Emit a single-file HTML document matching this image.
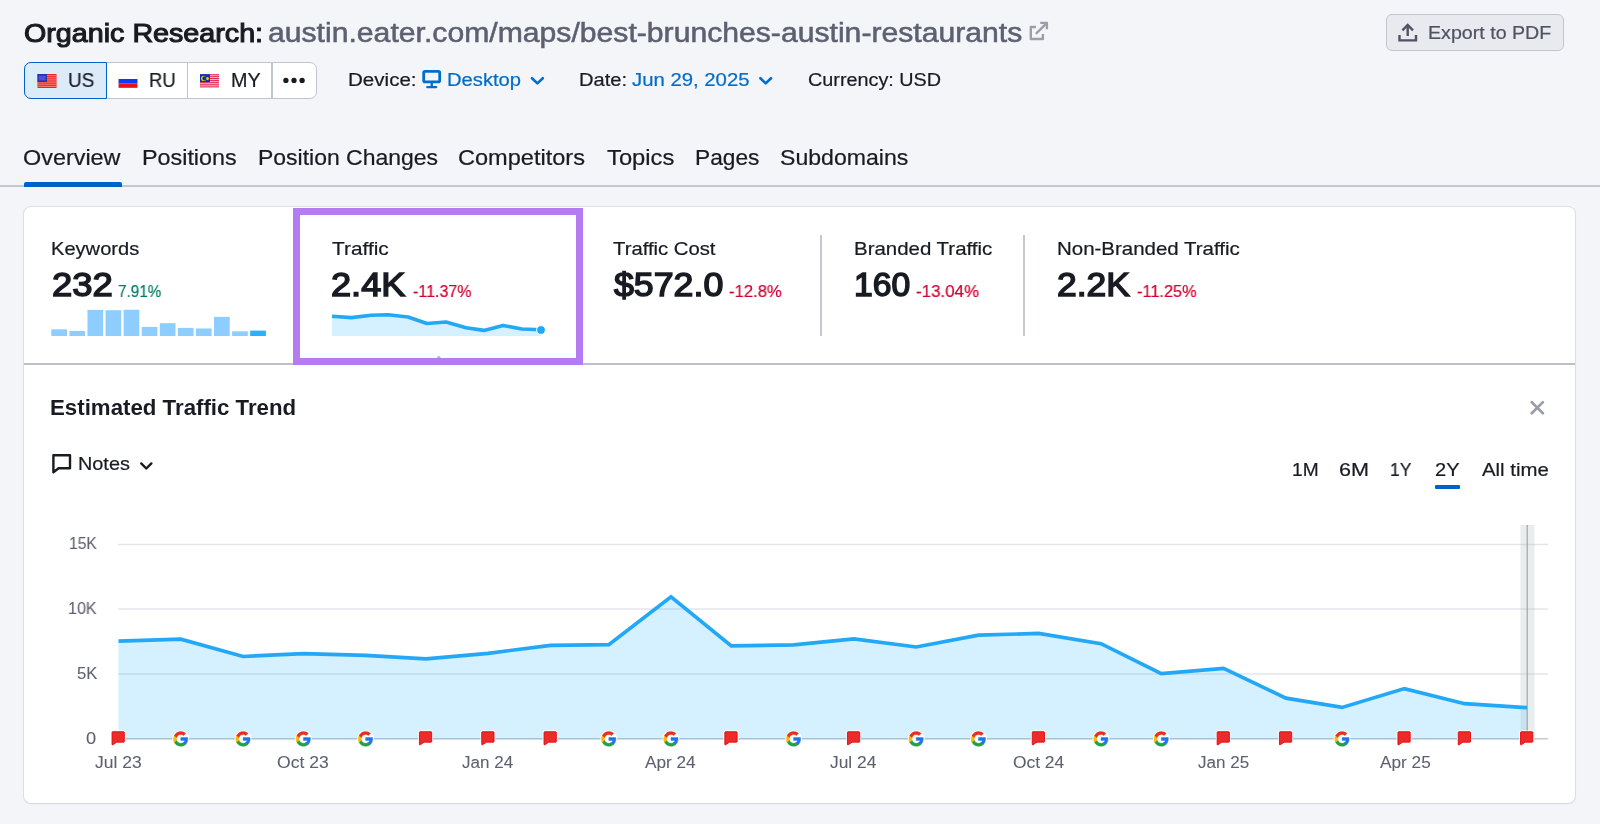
<!DOCTYPE html>
<html>
<head>
<meta charset="utf-8">
<title>Organic Research</title>
<style>
*{box-sizing:border-box;margin:0;padding:0}
html,body{width:1600px;height:824px;overflow:hidden}
body{background:#f4f5f9;font-family:"Liberation Sans",sans-serif;color:#191b23;position:relative}
.t{position:absolute;white-space:nowrap;line-height:1;transform-origin:0 0;will-change:transform}
.abs{position:absolute}
#export{}
#exbtn{left:1386px;top:13.5px;width:178px;height:37px;border:1.4px solid #c2c5ce;border-radius:6px;background:#e9eaef}
#dbs{left:24px;top:62px;width:292.5px;height:36.5px;border:1.3px solid #c0c4cd;border-radius:7px;background:#fff}
#dbus{left:24px;top:62px;width:82.5px;height:36.5px;border:1.7px solid #0062c8;border-radius:7px 0 0 7px;background:#dcebf8}
.sep{position:absolute;top:63px;width:1.3px;height:34.5px;background:#c0c4cd}
#tabline{left:0;top:185px;width:1600px;height:1.8px;background:#c4c8d1}
#tabact{left:24px;top:182.3px;width:98px;height:4.4px;background:#0062c8;border-radius:2px 2px 0 0}
#card{left:24px;top:207.3px;width:1551.2px;height:596px;background:#fff;border-radius:7px;box-shadow:0 0 0 1px rgba(196,199,207,.45),0 1px 2px rgba(25,27,35,.08)}
#divider{left:24px;top:363px;width:1551.2px;height:1.9px;background:#bdc0ca}
#hl{left:293px;top:207.5px;width:289.5px;height:157px;border:7px solid #b57bf3}
.vsep{position:absolute;top:235.2px;width:1.7px;height:101px;background:#c4c7cf}
#r2u{left:1435.2px;top:485.2px;width:24.7px;height:4.1px;background:#0062c8;border-radius:1px}
</style>
</head>
<body>

<!-- header buttons -->
<div class="abs" id="exbtn"></div>
<div class="abs" id="dbs"></div>
<div class="abs" id="dbus"></div>
<div class="sep" style="left:186.6px"></div>
<div class="sep" style="left:271.3px"></div>

<!-- tabs -->
<div class="abs" id="tabline"></div>
<div class="abs" id="tabact"></div>

<!-- card -->
<div class="abs" id="card"></div>
<div class="abs" id="divider"></div>
<div class="vsep" style="left:820.3px"></div>
<div class="vsep" style="left:1023.4px"></div>
<div class="abs" id="r2u"></div>

<!-- graphics layer -->
<svg class="abs" style="left:0;top:0" width="1600" height="824" viewBox="0 0 1600 824">
<!-- external link icon -->
<g fill="none" stroke="#9c9fa9" stroke-width="2.4" stroke-linecap="butt" stroke-linejoin="round">
<path d="M1035.9 27 H1030.8 V39 H1042.9 V34.1"/>
<path d="M1040.2 22.9 H1046.9 V29.2"/>
<path d="M1046.4 23.4 L1036.6 33.2" stroke-linecap="round"/>
</g>
<!-- export icon -->
<g fill="none" stroke="#4f5261" stroke-width="2.4" stroke-linecap="butt" stroke-linejoin="miter">
<path d="M1407.7 36 V25"/>
<path d="M1402.4 30.3 L1407.7 25 L1413 30.3"/>
<path d="M1399.5 35 V40.4 H1416 V35"/>
</g>
<!-- US flag -->
<g>
<rect x="37.5" y="74" width="19" height="14" fill="#ea2222"/>
<g fill="#f6857b">
<rect x="37.5" y="75.1" width="19" height="1.05"/><rect x="37.5" y="77.25" width="19" height="1.05"/><rect x="37.5" y="79.4" width="19" height="1.05"/><rect x="37.5" y="81.55" width="19" height="1.05"/><rect x="37.5" y="83.7" width="19" height="1.05"/><rect x="37.5" y="85.85" width="19" height="1.05"/>
</g>
<rect x="37.5" y="74" width="9.4" height="8" fill="#2a2fa8"/>
<rect x="38.8" y="75.6" width="6.8" height="4.8" fill="#4a4fdc"/>
</g>
<!-- RU flag -->
<g>
<rect x="118.3" y="74.2" width="19.4" height="13.8" rx="1.2" fill="#e4e6ea"/>
<rect x="118.6" y="74.5" width="18.8" height="5" rx="1" fill="#ffffff"/>
<rect x="118.6" y="79" width="18.8" height="4.4" fill="#0a3af2"/>
<rect x="118.6" y="83.4" width="18.8" height="4.4" fill="#e81212"/>
</g>
<!-- MY flag -->
<g>
<rect x="200" y="74.2" width="19" height="13.4" fill="#e0214d"/>
<g fill="#f7c5d0">
<rect x="200" y="75.2" width="19" height="0.95"/><rect x="200" y="77.1" width="19" height="0.95"/><rect x="200" y="79" width="19" height="0.95"/><rect x="200" y="80.9" width="19" height="0.95"/><rect x="200" y="82.8" width="19" height="0.95"/><rect x="200" y="84.7" width="19" height="0.95"/><rect x="200" y="86.6" width="19" height="0.95"/>
</g>
<rect x="200" y="74.2" width="10" height="7.9" fill="#0a32b4"/>
<circle cx="203.6" cy="78.4" r="2.6" fill="#f2c200"/>
<circle cx="204.5" cy="78.4" r="2.1" fill="#0a32b4"/>
<circle cx="207.5" cy="78.4" r="1.5" fill="#f7c400"/>
</g>
<!-- dots -->
<g fill="#191b23"><circle cx="285.9" cy="80.4" r="2.65"/><circle cx="294" cy="80.4" r="2.65"/><circle cx="302.1" cy="80.4" r="2.65"/></g>
<!-- monitor icon -->
<g fill="none" stroke="#006dca" stroke-width="2.8" stroke-linejoin="round">
<rect x="423.7" y="71.3" width="16" height="10.5" rx="1.4"/>
</g>
<path d="M430.6 83 H432.9 V86 H436.3 Q437.3 86 437.3 87.1 T436.3 88.3 H427.2 Q426.2 88.3 426.2 87.1 T427.2 86 H430.6 Z" fill="#006dca"/>
<!-- chevrons -->
<g fill="none" stroke-width="2.6" stroke-linecap="round" stroke-linejoin="round">
<path d="M532 78.2 L537.4 83.4 L542.8 78.2" stroke="#006dca"/>
<path d="M760.4 78.2 L765.7 83.4 L771 78.2" stroke="#006dca"/>
<path d="M141.2 463.4 L146.3 468.5 L151.4 463.4" stroke="#191b23" stroke-width="2.4"/>
</g>
<!-- notes icon -->
<path d="M53.4 455.3 H70 V468.3 H58.6 L53.4 472.3 Z" fill="none" stroke="#191b23" stroke-width="2.4" stroke-linejoin="round"/>
<!-- close x -->
<g stroke="#9a9da8" stroke-width="2.7" stroke-linecap="round"><path d="M1531.7 402.1 L1542.9 413.3"/><path d="M1542.9 402.1 L1531.7 413.3"/></g>
<path d="M436.3 358.2 L438.8 355.4 L441.3 358.2 Z" fill="#b4b7c0"/>
<!-- keyword bars -->
<rect x="51.30" y="329.30" width="15.7" height="6.70" fill="#8ecdff"/>
<rect x="69.38" y="331.00" width="15.7" height="5.00" fill="#8ecdff"/>
<rect x="87.46" y="309.90" width="15.7" height="26.10" fill="#8ecdff"/>
<rect x="105.54" y="310.20" width="15.7" height="25.80" fill="#8ecdff"/>
<rect x="123.62" y="309.75" width="15.7" height="26.25" fill="#8ecdff"/>
<rect x="141.70" y="326.90" width="15.7" height="9.10" fill="#8ecdff"/>
<rect x="159.78" y="323.20" width="15.7" height="12.80" fill="#8ecdff"/>
<rect x="177.86" y="327.90" width="15.7" height="8.10" fill="#8ecdff"/>
<rect x="195.94" y="328.50" width="15.7" height="7.50" fill="#8ecdff"/>
<rect x="214.02" y="316.90" width="15.7" height="19.10" fill="#8ecdff"/>
<rect x="232.10" y="331.30" width="15.7" height="4.70" fill="#8ecdff"/>
<rect x="250.18" y="330.60" width="15.7" height="5.40" fill="#2bb0ff"/>
<!-- sparkline -->
<polygon points="332,336 332.0,316.2 351.5,317.6 371.0,315.3 388.0,314.8 408.0,317.0 427.0,323.5 446.0,322.0 466.0,327.8 484.0,330.4 503.0,325.4 522.0,329.0 541.0,329.8 541,336" fill="#2bb3ff" fill-opacity="0.2"/><polyline points="332.0,316.2 351.5,317.6 371.0,315.3 388.0,314.8 408.0,317.0 427.0,323.5 446.0,322.0 466.0,327.8 484.0,330.4 503.0,325.4 522.0,329.0 541.0,329.8" fill="none" stroke="#22a8f7" stroke-width="3.6" stroke-linejoin="round"/><circle cx="541" cy="330" r="4.4" fill="#22a8f7" stroke="#fff" stroke-width="1"/>
<!-- chart -->
<rect x="118" y="543.8" width="1430" height="1.4" fill="#e3e4ec"/>
<rect x="118" y="608.3" width="1430" height="1.4" fill="#e3e4ec"/>
<rect x="118" y="673.3" width="1430" height="1.4" fill="#e3e4ec"/>
<rect x="118" y="738.0" width="1430" height="1.5" fill="#c6c9d1"/>
<polygon points="118.5,739.4 118.5,641.2 180.8,639.2 243.1,656.5 303.4,653.6 365.6,655.4 425.9,658.8 488.2,653.3 550.5,645.3 608.8,644.6 671.0,596.9 731.3,645.9 793.6,644.8 853.9,638.8 916.2,647.0 978.5,635.1 1038.7,633.4 1101.0,643.7 1161.3,673.7 1223.6,668.3 1285.9,698.2 1342.1,707.4 1404.4,688.6 1464.7,703.7 1527.0,707.6 1527.0,739.4" fill="#2bb3ff" fill-opacity="0.2"/>
<rect x="1520.4" y="525" width="14.1" height="213.8" fill="#a9b2b8" fill-opacity="0.24"/>
<rect x="1526.6" y="525" width="1.3" height="213.8" fill="#9aa0a6" fill-opacity="0.85"/>
<polyline points="118.5,641.2 180.8,639.2 243.1,656.5 303.4,653.6 365.6,655.4 425.9,658.8 488.2,653.3 550.5,645.3 608.8,644.6 671.0,596.9 731.3,645.9 793.6,644.8 853.9,638.8 916.2,647.0 978.5,635.1 1038.7,633.4 1101.0,643.7 1161.3,673.7 1223.6,668.3 1285.9,698.2 1342.1,707.4 1404.4,688.6 1464.7,703.7 1527.0,707.6" fill="none" stroke="#22a8f7" stroke-width="3.7" stroke-linejoin="miter" stroke-linecap="butt"/>
<g transform="translate(111.8,731.3)"><path d="M0.85 0.45 H11.9 Q12.5 0.45 12.5 1.05 V10.25 Q12.5 10.85 11.9 10.85 H4.9 L1.0 13.5 Q0.25 13.9 0.25 13.0 V1.05 Q0.25 0.45 0.85 0.45 Z" fill="#fff" stroke="#fff" stroke-width="2.6" stroke-linejoin="round"/><path d="M0.85 0.45 H11.9 Q12.5 0.45 12.5 1.05 V10.25 Q12.5 10.85 11.9 10.85 H4.9 L1.0 13.5 Q0.25 13.9 0.25 13.0 V1.05 Q0.25 0.45 0.85 0.45 Z" fill="#ec2b2b" stroke="#e80505" stroke-width="0.9" stroke-linejoin="round"/></g>
<g transform="translate(172.7,730.9)"><circle cx="8.1" cy="8" r="8.4" fill="#fff"/><g transform="translate(0.1,0) scale(0.3333)" stroke-width="1.3" stroke-linejoin="round"><path fill="#1f74f2" stroke="#1f74f2" d="M45.12 24.5c0-1.56-.14-3.06-.4-4.5H24v8.51h11.84c-.51 2.75-2.06 5.08-4.39 6.64v5.52h7.11c4.16-3.83 6.56-9.47 6.56-16.17z"/><path fill="#24a148" stroke="#24a148" d="M24 46c5.94 0 10.92-1.97 14.56-5.33l-7.11-5.52c-1.97 1.32-4.49 2.1-7.45 2.1-5.73 0-10.58-3.87-12.31-9.07H4.34v5.7C7.96 41.07 15.4 46 24 46z"/><path fill="#fbb808" stroke="#fbb808" d="M11.69 28.18C11.25 26.86 11 25.45 11 24s.25-2.86.69-4.18v-5.7H4.34C2.85 17.09 2 20.45 2 24c0 3.55.85 6.91 2.34 9.88l7.35-5.7z"/><path fill="#ea2e1c" stroke="#ea2e1c" d="M24 10.75c3.23 0 6.13 1.11 8.41 3.29l6.31-6.31C34.91 4.18 29.93 2 24 2 15.4 2 7.96 6.930 4.34 14.12l7.35 5.7c1.73-5.2 6.58-9.07 12.31-9.07z"/></g></g>
<g transform="translate(235.0,730.9)"><circle cx="8.1" cy="8" r="8.4" fill="#fff"/><g transform="translate(0.1,0) scale(0.3333)" stroke-width="1.3" stroke-linejoin="round"><path fill="#1f74f2" stroke="#1f74f2" d="M45.12 24.5c0-1.56-.14-3.06-.4-4.5H24v8.51h11.84c-.51 2.75-2.06 5.08-4.39 6.64v5.52h7.11c4.16-3.83 6.56-9.47 6.56-16.17z"/><path fill="#24a148" stroke="#24a148" d="M24 46c5.94 0 10.92-1.97 14.56-5.33l-7.11-5.52c-1.97 1.32-4.49 2.1-7.45 2.1-5.73 0-10.58-3.87-12.31-9.07H4.34v5.7C7.96 41.07 15.4 46 24 46z"/><path fill="#fbb808" stroke="#fbb808" d="M11.69 28.18C11.25 26.86 11 25.45 11 24s.25-2.86.69-4.18v-5.7H4.34C2.85 17.09 2 20.45 2 24c0 3.55.85 6.91 2.34 9.88l7.35-5.7z"/><path fill="#ea2e1c" stroke="#ea2e1c" d="M24 10.75c3.23 0 6.13 1.11 8.41 3.29l6.31-6.31C34.91 4.18 29.93 2 24 2 15.4 2 7.96 6.930 4.34 14.12l7.35 5.7c1.73-5.2 6.58-9.07 12.31-9.07z"/></g></g>
<g transform="translate(295.3,730.9)"><circle cx="8.1" cy="8" r="8.4" fill="#fff"/><g transform="translate(0.1,0) scale(0.3333)" stroke-width="1.3" stroke-linejoin="round"><path fill="#1f74f2" stroke="#1f74f2" d="M45.12 24.5c0-1.56-.14-3.06-.4-4.5H24v8.51h11.84c-.51 2.75-2.06 5.08-4.39 6.64v5.52h7.11c4.16-3.83 6.56-9.47 6.56-16.17z"/><path fill="#24a148" stroke="#24a148" d="M24 46c5.94 0 10.92-1.97 14.56-5.33l-7.11-5.52c-1.97 1.32-4.49 2.1-7.45 2.1-5.73 0-10.58-3.87-12.31-9.07H4.34v5.7C7.96 41.07 15.4 46 24 46z"/><path fill="#fbb808" stroke="#fbb808" d="M11.69 28.18C11.25 26.86 11 25.45 11 24s.25-2.86.69-4.18v-5.7H4.34C2.85 17.09 2 20.45 2 24c0 3.55.85 6.91 2.34 9.88l7.35-5.7z"/><path fill="#ea2e1c" stroke="#ea2e1c" d="M24 10.75c3.23 0 6.13 1.11 8.41 3.29l6.31-6.31C34.91 4.18 29.93 2 24 2 15.4 2 7.96 6.930 4.34 14.12l7.35 5.7c1.73-5.2 6.58-9.07 12.31-9.07z"/></g></g>
<g transform="translate(357.5,730.9)"><circle cx="8.1" cy="8" r="8.4" fill="#fff"/><g transform="translate(0.1,0) scale(0.3333)" stroke-width="1.3" stroke-linejoin="round"><path fill="#1f74f2" stroke="#1f74f2" d="M45.12 24.5c0-1.56-.14-3.06-.4-4.5H24v8.51h11.84c-.51 2.75-2.06 5.08-4.39 6.64v5.52h7.11c4.16-3.83 6.56-9.47 6.56-16.17z"/><path fill="#24a148" stroke="#24a148" d="M24 46c5.94 0 10.92-1.97 14.56-5.33l-7.11-5.52c-1.97 1.32-4.49 2.1-7.45 2.1-5.73 0-10.58-3.87-12.31-9.07H4.34v5.7C7.96 41.07 15.4 46 24 46z"/><path fill="#fbb808" stroke="#fbb808" d="M11.69 28.18C11.25 26.86 11 25.45 11 24s.25-2.86.69-4.18v-5.7H4.34C2.85 17.09 2 20.45 2 24c0 3.55.85 6.91 2.34 9.88l7.35-5.7z"/><path fill="#ea2e1c" stroke="#ea2e1c" d="M24 10.75c3.23 0 6.13 1.11 8.41 3.29l6.31-6.31C34.91 4.18 29.93 2 24 2 15.4 2 7.96 6.930 4.34 14.12l7.35 5.7c1.73-5.2 6.58-9.07 12.31-9.07z"/></g></g>
<g transform="translate(419.2,731.3)"><path d="M0.85 0.45 H11.9 Q12.5 0.45 12.5 1.05 V10.25 Q12.5 10.85 11.9 10.85 H4.9 L1.0 13.5 Q0.25 13.9 0.25 13.0 V1.05 Q0.25 0.45 0.85 0.45 Z" fill="#fff" stroke="#fff" stroke-width="2.6" stroke-linejoin="round"/><path d="M0.85 0.45 H11.9 Q12.5 0.45 12.5 1.05 V10.25 Q12.5 10.85 11.9 10.85 H4.9 L1.0 13.5 Q0.25 13.9 0.25 13.0 V1.05 Q0.25 0.45 0.85 0.45 Z" fill="#ec2b2b" stroke="#e80505" stroke-width="0.9" stroke-linejoin="round"/></g>
<g transform="translate(481.5,731.3)"><path d="M0.85 0.45 H11.9 Q12.5 0.45 12.5 1.05 V10.25 Q12.5 10.85 11.9 10.85 H4.9 L1.0 13.5 Q0.25 13.9 0.25 13.0 V1.05 Q0.25 0.45 0.85 0.45 Z" fill="#fff" stroke="#fff" stroke-width="2.6" stroke-linejoin="round"/><path d="M0.85 0.45 H11.9 Q12.5 0.45 12.5 1.05 V10.25 Q12.5 10.85 11.9 10.85 H4.9 L1.0 13.5 Q0.25 13.9 0.25 13.0 V1.05 Q0.25 0.45 0.85 0.45 Z" fill="#ec2b2b" stroke="#e80505" stroke-width="0.9" stroke-linejoin="round"/></g>
<g transform="translate(543.8,731.3)"><path d="M0.85 0.45 H11.9 Q12.5 0.45 12.5 1.05 V10.25 Q12.5 10.85 11.9 10.85 H4.9 L1.0 13.5 Q0.25 13.9 0.25 13.0 V1.05 Q0.25 0.45 0.85 0.45 Z" fill="#fff" stroke="#fff" stroke-width="2.6" stroke-linejoin="round"/><path d="M0.85 0.45 H11.9 Q12.5 0.45 12.5 1.05 V10.25 Q12.5 10.85 11.9 10.85 H4.9 L1.0 13.5 Q0.25 13.9 0.25 13.0 V1.05 Q0.25 0.45 0.85 0.45 Z" fill="#ec2b2b" stroke="#e80505" stroke-width="0.9" stroke-linejoin="round"/></g>
<g transform="translate(600.7,730.9)"><circle cx="8.1" cy="8" r="8.4" fill="#fff"/><g transform="translate(0.1,0) scale(0.3333)" stroke-width="1.3" stroke-linejoin="round"><path fill="#1f74f2" stroke="#1f74f2" d="M45.12 24.5c0-1.56-.14-3.06-.4-4.5H24v8.51h11.84c-.51 2.75-2.06 5.08-4.39 6.64v5.52h7.11c4.16-3.83 6.56-9.47 6.56-16.17z"/><path fill="#24a148" stroke="#24a148" d="M24 46c5.94 0 10.92-1.97 14.56-5.33l-7.11-5.52c-1.97 1.32-4.49 2.1-7.45 2.1-5.73 0-10.58-3.87-12.31-9.07H4.34v5.7C7.96 41.07 15.4 46 24 46z"/><path fill="#fbb808" stroke="#fbb808" d="M11.69 28.18C11.25 26.86 11 25.45 11 24s.25-2.86.69-4.18v-5.7H4.34C2.85 17.09 2 20.45 2 24c0 3.55.85 6.91 2.34 9.88l7.35-5.7z"/><path fill="#ea2e1c" stroke="#ea2e1c" d="M24 10.75c3.23 0 6.13 1.11 8.41 3.29l6.31-6.31C34.91 4.18 29.93 2 24 2 15.4 2 7.96 6.930 4.34 14.12l7.35 5.7c1.73-5.2 6.58-9.07 12.31-9.07z"/></g></g>
<g transform="translate(662.9,730.9)"><circle cx="8.1" cy="8" r="8.4" fill="#fff"/><g transform="translate(0.1,0) scale(0.3333)" stroke-width="1.3" stroke-linejoin="round"><path fill="#1f74f2" stroke="#1f74f2" d="M45.12 24.5c0-1.56-.14-3.06-.4-4.5H24v8.51h11.84c-.51 2.75-2.06 5.08-4.39 6.64v5.52h7.11c4.16-3.83 6.56-9.47 6.56-16.17z"/><path fill="#24a148" stroke="#24a148" d="M24 46c5.94 0 10.92-1.97 14.56-5.33l-7.11-5.52c-1.97 1.32-4.49 2.1-7.45 2.1-5.73 0-10.58-3.87-12.31-9.07H4.34v5.7C7.96 41.07 15.4 46 24 46z"/><path fill="#fbb808" stroke="#fbb808" d="M11.69 28.18C11.25 26.86 11 25.45 11 24s.25-2.86.69-4.18v-5.7H4.34C2.85 17.09 2 20.45 2 24c0 3.55.85 6.91 2.34 9.88l7.35-5.7z"/><path fill="#ea2e1c" stroke="#ea2e1c" d="M24 10.75c3.23 0 6.13 1.11 8.41 3.29l6.31-6.31C34.91 4.18 29.93 2 24 2 15.4 2 7.96 6.930 4.34 14.12l7.35 5.7c1.73-5.2 6.58-9.07 12.31-9.07z"/></g></g>
<g transform="translate(724.6,731.3)"><path d="M0.85 0.45 H11.9 Q12.5 0.45 12.5 1.05 V10.25 Q12.5 10.85 11.9 10.85 H4.9 L1.0 13.5 Q0.25 13.9 0.25 13.0 V1.05 Q0.25 0.45 0.85 0.45 Z" fill="#fff" stroke="#fff" stroke-width="2.6" stroke-linejoin="round"/><path d="M0.85 0.45 H11.9 Q12.5 0.45 12.5 1.05 V10.25 Q12.5 10.85 11.9 10.85 H4.9 L1.0 13.5 Q0.25 13.9 0.25 13.0 V1.05 Q0.25 0.45 0.85 0.45 Z" fill="#ec2b2b" stroke="#e80505" stroke-width="0.9" stroke-linejoin="round"/></g>
<g transform="translate(785.5,730.9)"><circle cx="8.1" cy="8" r="8.4" fill="#fff"/><g transform="translate(0.1,0) scale(0.3333)" stroke-width="1.3" stroke-linejoin="round"><path fill="#1f74f2" stroke="#1f74f2" d="M45.12 24.5c0-1.56-.14-3.06-.4-4.5H24v8.51h11.84c-.51 2.75-2.06 5.08-4.39 6.64v5.52h7.11c4.16-3.83 6.56-9.47 6.56-16.17z"/><path fill="#24a148" stroke="#24a148" d="M24 46c5.94 0 10.92-1.97 14.56-5.33l-7.11-5.52c-1.97 1.32-4.49 2.1-7.45 2.1-5.73 0-10.58-3.87-12.31-9.07H4.34v5.7C7.96 41.07 15.4 46 24 46z"/><path fill="#fbb808" stroke="#fbb808" d="M11.69 28.18C11.25 26.86 11 25.45 11 24s.25-2.86.69-4.18v-5.7H4.34C2.85 17.09 2 20.45 2 24c0 3.55.85 6.91 2.34 9.88l7.35-5.7z"/><path fill="#ea2e1c" stroke="#ea2e1c" d="M24 10.75c3.23 0 6.13 1.11 8.41 3.29l6.31-6.31C34.91 4.18 29.93 2 24 2 15.4 2 7.96 6.930 4.34 14.12l7.35 5.7c1.73-5.2 6.58-9.07 12.31-9.07z"/></g></g>
<g transform="translate(847.2,731.3)"><path d="M0.85 0.45 H11.9 Q12.5 0.45 12.5 1.05 V10.25 Q12.5 10.85 11.9 10.85 H4.9 L1.0 13.5 Q0.25 13.9 0.25 13.0 V1.05 Q0.25 0.45 0.85 0.45 Z" fill="#fff" stroke="#fff" stroke-width="2.6" stroke-linejoin="round"/><path d="M0.85 0.45 H11.9 Q12.5 0.45 12.5 1.05 V10.25 Q12.5 10.85 11.9 10.85 H4.9 L1.0 13.5 Q0.25 13.9 0.25 13.0 V1.05 Q0.25 0.45 0.85 0.45 Z" fill="#ec2b2b" stroke="#e80505" stroke-width="0.9" stroke-linejoin="round"/></g>
<g transform="translate(908.1,730.9)"><circle cx="8.1" cy="8" r="8.4" fill="#fff"/><g transform="translate(0.1,0) scale(0.3333)" stroke-width="1.3" stroke-linejoin="round"><path fill="#1f74f2" stroke="#1f74f2" d="M45.12 24.5c0-1.56-.14-3.06-.4-4.5H24v8.51h11.84c-.51 2.75-2.06 5.08-4.39 6.64v5.52h7.11c4.16-3.83 6.56-9.47 6.56-16.17z"/><path fill="#24a148" stroke="#24a148" d="M24 46c5.94 0 10.92-1.97 14.56-5.33l-7.11-5.52c-1.97 1.32-4.49 2.1-7.45 2.1-5.73 0-10.58-3.87-12.31-9.07H4.34v5.7C7.96 41.07 15.4 46 24 46z"/><path fill="#fbb808" stroke="#fbb808" d="M11.69 28.18C11.25 26.86 11 25.45 11 24s.25-2.86.69-4.18v-5.7H4.34C2.85 17.09 2 20.45 2 24c0 3.55.85 6.91 2.34 9.88l7.35-5.7z"/><path fill="#ea2e1c" stroke="#ea2e1c" d="M24 10.75c3.23 0 6.13 1.11 8.41 3.29l6.31-6.31C34.91 4.18 29.93 2 24 2 15.4 2 7.96 6.930 4.34 14.12l7.35 5.7c1.73-5.2 6.58-9.07 12.31-9.07z"/></g></g>
<g transform="translate(970.4,730.9)"><circle cx="8.1" cy="8" r="8.4" fill="#fff"/><g transform="translate(0.1,0) scale(0.3333)" stroke-width="1.3" stroke-linejoin="round"><path fill="#1f74f2" stroke="#1f74f2" d="M45.12 24.5c0-1.56-.14-3.06-.4-4.5H24v8.51h11.84c-.51 2.75-2.06 5.08-4.39 6.64v5.52h7.11c4.16-3.83 6.56-9.47 6.56-16.17z"/><path fill="#24a148" stroke="#24a148" d="M24 46c5.94 0 10.92-1.97 14.56-5.33l-7.11-5.52c-1.97 1.32-4.49 2.1-7.45 2.1-5.73 0-10.58-3.87-12.31-9.07H4.34v5.7C7.96 41.07 15.4 46 24 46z"/><path fill="#fbb808" stroke="#fbb808" d="M11.69 28.18C11.25 26.86 11 25.45 11 24s.25-2.86.69-4.18v-5.7H4.34C2.85 17.09 2 20.45 2 24c0 3.55.85 6.91 2.34 9.88l7.35-5.7z"/><path fill="#ea2e1c" stroke="#ea2e1c" d="M24 10.75c3.23 0 6.13 1.11 8.41 3.29l6.31-6.31C34.91 4.18 29.93 2 24 2 15.4 2 7.96 6.930 4.34 14.12l7.35 5.7c1.73-5.2 6.58-9.07 12.31-9.07z"/></g></g>
<g transform="translate(1032.0,731.3)"><path d="M0.85 0.45 H11.9 Q12.5 0.45 12.5 1.05 V10.25 Q12.5 10.85 11.9 10.85 H4.9 L1.0 13.5 Q0.25 13.9 0.25 13.0 V1.05 Q0.25 0.45 0.85 0.45 Z" fill="#fff" stroke="#fff" stroke-width="2.6" stroke-linejoin="round"/><path d="M0.85 0.45 H11.9 Q12.5 0.45 12.5 1.05 V10.25 Q12.5 10.85 11.9 10.85 H4.9 L1.0 13.5 Q0.25 13.9 0.25 13.0 V1.05 Q0.25 0.45 0.85 0.45 Z" fill="#ec2b2b" stroke="#e80505" stroke-width="0.9" stroke-linejoin="round"/></g>
<g transform="translate(1092.9,730.9)"><circle cx="8.1" cy="8" r="8.4" fill="#fff"/><g transform="translate(0.1,0) scale(0.3333)" stroke-width="1.3" stroke-linejoin="round"><path fill="#1f74f2" stroke="#1f74f2" d="M45.12 24.5c0-1.56-.14-3.06-.4-4.5H24v8.51h11.84c-.51 2.75-2.06 5.08-4.39 6.64v5.52h7.11c4.16-3.83 6.56-9.47 6.56-16.17z"/><path fill="#24a148" stroke="#24a148" d="M24 46c5.94 0 10.92-1.97 14.56-5.33l-7.11-5.52c-1.97 1.32-4.49 2.1-7.45 2.1-5.73 0-10.58-3.87-12.31-9.07H4.34v5.7C7.96 41.07 15.4 46 24 46z"/><path fill="#fbb808" stroke="#fbb808" d="M11.69 28.18C11.25 26.86 11 25.45 11 24s.25-2.86.69-4.18v-5.7H4.34C2.85 17.09 2 20.45 2 24c0 3.55.85 6.91 2.34 9.88l7.35-5.7z"/><path fill="#ea2e1c" stroke="#ea2e1c" d="M24 10.75c3.23 0 6.13 1.11 8.41 3.29l6.31-6.31C34.91 4.18 29.93 2 24 2 15.4 2 7.96 6.930 4.34 14.12l7.35 5.7c1.73-5.2 6.58-9.07 12.31-9.07z"/></g></g>
<g transform="translate(1153.2,730.9)"><circle cx="8.1" cy="8" r="8.4" fill="#fff"/><g transform="translate(0.1,0) scale(0.3333)" stroke-width="1.3" stroke-linejoin="round"><path fill="#1f74f2" stroke="#1f74f2" d="M45.12 24.5c0-1.56-.14-3.06-.4-4.5H24v8.51h11.84c-.51 2.75-2.06 5.08-4.39 6.64v5.52h7.11c4.16-3.83 6.56-9.47 6.56-16.17z"/><path fill="#24a148" stroke="#24a148" d="M24 46c5.94 0 10.92-1.97 14.56-5.33l-7.11-5.52c-1.97 1.32-4.49 2.1-7.45 2.1-5.73 0-10.58-3.87-12.31-9.07H4.34v5.7C7.96 41.07 15.4 46 24 46z"/><path fill="#fbb808" stroke="#fbb808" d="M11.69 28.18C11.25 26.86 11 25.45 11 24s.25-2.86.69-4.18v-5.7H4.34C2.85 17.09 2 20.45 2 24c0 3.55.85 6.91 2.34 9.88l7.35-5.7z"/><path fill="#ea2e1c" stroke="#ea2e1c" d="M24 10.75c3.23 0 6.13 1.11 8.41 3.29l6.31-6.31C34.91 4.18 29.93 2 24 2 15.4 2 7.96 6.930 4.34 14.12l7.35 5.7c1.73-5.2 6.58-9.07 12.31-9.07z"/></g></g>
<g transform="translate(1216.9,731.3)"><path d="M0.85 0.45 H11.9 Q12.5 0.45 12.5 1.05 V10.25 Q12.5 10.85 11.9 10.85 H4.9 L1.0 13.5 Q0.25 13.9 0.25 13.0 V1.05 Q0.25 0.45 0.85 0.45 Z" fill="#fff" stroke="#fff" stroke-width="2.6" stroke-linejoin="round"/><path d="M0.85 0.45 H11.9 Q12.5 0.45 12.5 1.05 V10.25 Q12.5 10.85 11.9 10.85 H4.9 L1.0 13.5 Q0.25 13.9 0.25 13.0 V1.05 Q0.25 0.45 0.85 0.45 Z" fill="#ec2b2b" stroke="#e80505" stroke-width="0.9" stroke-linejoin="round"/></g>
<g transform="translate(1279.2,731.3)"><path d="M0.85 0.45 H11.9 Q12.5 0.45 12.5 1.05 V10.25 Q12.5 10.85 11.9 10.85 H4.9 L1.0 13.5 Q0.25 13.9 0.25 13.0 V1.05 Q0.25 0.45 0.85 0.45 Z" fill="#fff" stroke="#fff" stroke-width="2.6" stroke-linejoin="round"/><path d="M0.85 0.45 H11.9 Q12.5 0.45 12.5 1.05 V10.25 Q12.5 10.85 11.9 10.85 H4.9 L1.0 13.5 Q0.25 13.9 0.25 13.0 V1.05 Q0.25 0.45 0.85 0.45 Z" fill="#ec2b2b" stroke="#e80505" stroke-width="0.9" stroke-linejoin="round"/></g>
<g transform="translate(1334.0,730.9)"><circle cx="8.1" cy="8" r="8.4" fill="#fff"/><g transform="translate(0.1,0) scale(0.3333)" stroke-width="1.3" stroke-linejoin="round"><path fill="#1f74f2" stroke="#1f74f2" d="M45.12 24.5c0-1.56-.14-3.06-.4-4.5H24v8.51h11.84c-.51 2.75-2.06 5.08-4.39 6.64v5.52h7.11c4.16-3.83 6.56-9.47 6.56-16.17z"/><path fill="#24a148" stroke="#24a148" d="M24 46c5.94 0 10.92-1.97 14.56-5.33l-7.11-5.52c-1.97 1.32-4.49 2.1-7.45 2.1-5.73 0-10.58-3.87-12.31-9.07H4.34v5.7C7.96 41.07 15.4 46 24 46z"/><path fill="#fbb808" stroke="#fbb808" d="M11.69 28.18C11.25 26.86 11 25.45 11 24s.25-2.86.69-4.18v-5.7H4.34C2.85 17.09 2 20.45 2 24c0 3.55.85 6.91 2.34 9.88l7.35-5.7z"/><path fill="#ea2e1c" stroke="#ea2e1c" d="M24 10.75c3.23 0 6.13 1.11 8.41 3.29l6.31-6.31C34.91 4.18 29.93 2 24 2 15.4 2 7.96 6.930 4.34 14.12l7.35 5.7c1.73-5.2 6.58-9.07 12.31-9.07z"/></g></g>
<g transform="translate(1397.7,731.3)"><path d="M0.85 0.45 H11.9 Q12.5 0.45 12.5 1.05 V10.25 Q12.5 10.85 11.9 10.85 H4.9 L1.0 13.5 Q0.25 13.9 0.25 13.0 V1.05 Q0.25 0.45 0.85 0.45 Z" fill="#fff" stroke="#fff" stroke-width="2.6" stroke-linejoin="round"/><path d="M0.85 0.45 H11.9 Q12.5 0.45 12.5 1.05 V10.25 Q12.5 10.85 11.9 10.85 H4.9 L1.0 13.5 Q0.25 13.9 0.25 13.0 V1.05 Q0.25 0.45 0.85 0.45 Z" fill="#ec2b2b" stroke="#e80505" stroke-width="0.9" stroke-linejoin="round"/></g>
<g transform="translate(1458.0,731.3)"><path d="M0.85 0.45 H11.9 Q12.5 0.45 12.5 1.05 V10.25 Q12.5 10.85 11.9 10.85 H4.9 L1.0 13.5 Q0.25 13.9 0.25 13.0 V1.05 Q0.25 0.45 0.85 0.45 Z" fill="#fff" stroke="#fff" stroke-width="2.6" stroke-linejoin="round"/><path d="M0.85 0.45 H11.9 Q12.5 0.45 12.5 1.05 V10.25 Q12.5 10.85 11.9 10.85 H4.9 L1.0 13.5 Q0.25 13.9 0.25 13.0 V1.05 Q0.25 0.45 0.85 0.45 Z" fill="#ec2b2b" stroke="#e80505" stroke-width="0.9" stroke-linejoin="round"/></g>
<g transform="translate(1520.3,731.3)"><path d="M0.85 0.45 H11.9 Q12.5 0.45 12.5 1.05 V10.25 Q12.5 10.85 11.9 10.85 H4.9 L1.0 13.5 Q0.25 13.9 0.25 13.0 V1.05 Q0.25 0.45 0.85 0.45 Z" fill="#fff" stroke="#fff" stroke-width="2.6" stroke-linejoin="round"/><path d="M0.85 0.45 H11.9 Q12.5 0.45 12.5 1.05 V10.25 Q12.5 10.85 11.9 10.85 H4.9 L1.0 13.5 Q0.25 13.9 0.25 13.0 V1.05 Q0.25 0.45 0.85 0.45 Z" fill="#ec2b2b" stroke="#e80505" stroke-width="0.9" stroke-linejoin="round"/></g>
</svg>
<div class="abs" id="hl"></div>
<!-- texts -->
<div class="t" id="title_b" style="left:23.92px;top:19.91px;font-size:26.67px;color:#191b23;transform:scaleX(1.0758);-webkit-text-stroke:1.1px #191b23">Organic Research:</div>
<div class="t" id="title_u" style="left:268.43px;top:18.12px;font-size:28.26px;color:#5d6070;transform:scaleX(1.0675);-webkit-text-stroke:0.55px #5d6070">austin.eater.com/maps/best-brunches-austin-restaurants</div>
<div class="t" id="us" style="left:68.27px;top:71.29px;font-size:19.42px;color:#191b23;transform:scaleX(0.9754);-webkit-text-stroke:0.22px #191b23">US</div>
<div class="t" id="ru" style="left:149.05px;top:71.29px;font-size:19.42px;color:#191b23;transform:scaleX(0.9520);-webkit-text-stroke:0.22px #191b23">RU</div>
<div class="t" id="my" style="left:230.54px;top:71.29px;font-size:19.42px;color:#191b23;transform:scaleX(1.0188);-webkit-text-stroke:0.22px #191b23">MY</div>
<div class="t" id="device" style="left:348.35px;top:70.01px;font-size:19.28px;color:#191b23;transform:scaleX(1.0672);-webkit-text-stroke:0.22px #191b23">Device:</div>
<div class="t" id="desktop" style="left:446.92px;top:70.01px;font-size:19.28px;color:#006dca;transform:scaleX(1.0476);-webkit-text-stroke:0.22px #006dca">Desktop</div>
<div class="t" id="date" style="left:579.42px;top:70.01px;font-size:19.28px;color:#191b23;transform:scaleX(1.0421);-webkit-text-stroke:0.22px #191b23">Date:</div>
<div class="t" id="dateval" style="left:631.96px;top:70.01px;font-size:19.28px;color:#006dca;transform:scaleX(1.0548);-webkit-text-stroke:0.22px #006dca">Jun 29, 2025</div>
<div class="t" id="currency" style="left:807.98px;top:70.01px;font-size:19.28px;color:#191b23;transform:scaleX(1.0276);-webkit-text-stroke:0.22px #191b23">Currency: USD</div>
<div class="t" id="export" style="left:1428.37px;top:22.65px;font-size:18.99px;color:#4f5261;transform:scaleX(1.0342);-webkit-text-stroke:0.22px #4f5261">Export to PDF</div>
<div class="t" id="tab1" style="left:23.24px;top:147.16px;font-size:21.59px;color:#191b23;transform:scaleX(1.0843);-webkit-text-stroke:0.22px #191b23">Overview</div>
<div class="t" id="tab2" style="left:142.14px;top:147.16px;font-size:21.59px;color:#191b23;transform:scaleX(1.0812);-webkit-text-stroke:0.22px #191b23">Positions</div>
<div class="t" id="tab3" style="left:257.78px;top:147.16px;font-size:21.59px;color:#191b23;transform:scaleX(1.0648);-webkit-text-stroke:0.22px #191b23">Position Changes</div>
<div class="t" id="tab4" style="left:458.13px;top:147.16px;font-size:21.59px;color:#191b23;transform:scaleX(1.0915);-webkit-text-stroke:0.22px #191b23">Competitors</div>
<div class="t" id="tab5" style="left:607.36px;top:147.16px;font-size:21.59px;color:#191b23;transform:scaleX(1.1009);-webkit-text-stroke:0.22px #191b23">Topics</div>
<div class="t" id="tab6" style="left:694.63px;top:147.16px;font-size:21.59px;color:#191b23;transform:scaleX(1.0525);-webkit-text-stroke:0.22px #191b23">Pages</div>
<div class="t" id="tab7" style="left:780.43px;top:147.16px;font-size:21.59px;color:#191b23;transform:scaleX(1.0691);-webkit-text-stroke:0.22px #191b23">Subdomains</div>
<div class="t" id="ml1" style="left:50.73px;top:240.13px;font-size:18.55px;color:#191b23;transform:scaleX(1.0842);-webkit-text-stroke:0.22px #191b23">Keywords</div>
<div class="t" id="ml2" style="left:332.24px;top:240.13px;font-size:18.55px;color:#191b23;transform:scaleX(1.1243);-webkit-text-stroke:0.22px #191b23">Traffic</div>
<div class="t" id="ml3" style="left:612.98px;top:240.13px;font-size:18.55px;color:#191b23;transform:scaleX(1.0937);-webkit-text-stroke:0.22px #191b23">Traffic Cost</div>
<div class="t" id="ml4" style="left:853.54px;top:240.13px;font-size:18.55px;color:#191b23;transform:scaleX(1.1033);-webkit-text-stroke:0.22px #191b23">Branded Traffic</div>
<div class="t" id="ml5" style="left:1056.90px;top:240.13px;font-size:18.55px;color:#191b23;transform:scaleX(1.1043);-webkit-text-stroke:0.22px #191b23">Non-Branded Traffic</div>
<div class="t" id="mv1" style="left:51.64px;top:269.46px;font-size:32.32px;color:#191b23;transform:scaleX(1.1288);-webkit-text-stroke:1.45px #191b23">232</div>
<div class="t" id="mv2" style="left:331.28px;top:269.46px;font-size:32.32px;color:#191b23;transform:scaleX(1.1197);-webkit-text-stroke:1.45px #191b23">2.4K</div>
<div class="t" id="mv3" style="left:613.69px;top:269.46px;font-size:32.32px;color:#191b23;transform:scaleX(1.1056);-webkit-text-stroke:1.45px #191b23">$572.0</div>
<div class="t" id="mv4" style="left:853.63px;top:269.46px;font-size:32.32px;color:#191b23;transform:scaleX(1.0428);-webkit-text-stroke:1.45px #191b23">160</div>
<div class="t" id="mv5" style="left:1057.30px;top:269.46px;font-size:32.32px;color:#191b23;transform:scaleX(1.0970);-webkit-text-stroke:1.45px #191b23">2.2K</div>
<div class="t" id="mp1" style="left:117.57px;top:282.51px;font-size:17.39px;color:#007c65;transform:scaleX(0.8792);-webkit-text-stroke:0.22px #007c65">7.91%</div>
<div class="t" id="mp2" style="left:413.03px;top:282.51px;font-size:17.39px;color:#d1002f;transform:scaleX(0.9227);-webkit-text-stroke:0.22px #d1002f">-11.37%</div>
<div class="t" id="mp3" style="left:729.07px;top:282.51px;font-size:17.39px;color:#d1002f;transform:scaleX(0.9587);-webkit-text-stroke:0.22px #d1002f">-12.8%</div>
<div class="t" id="mp4" style="left:915.76px;top:282.51px;font-size:17.39px;color:#d1002f;transform:scaleX(0.9751);-webkit-text-stroke:0.22px #d1002f">-13.04%</div>
<div class="t" id="mp5" style="left:1136.80px;top:282.51px;font-size:17.39px;color:#d1002f;transform:scaleX(0.9403);-webkit-text-stroke:0.22px #d1002f">-11.25%</div>
<div class="t" id="h2" style="left:50.28px;top:398.10px;font-size:21.3px;color:#191b23;transform:scaleX(1.0454);font-weight:bold">Estimated Traffic Trend</div>
<div class="t" id="notes" style="left:77.99px;top:455.38px;font-size:18.84px;color:#191b23;transform:scaleX(1.0542);-webkit-text-stroke:0.22px #191b23">Notes</div>
<div class="t" id="r1" style="left:1291.58px;top:460.24px;font-size:19.13px;color:#191b23;transform:scaleX(0.9985);-webkit-text-stroke:0.22px #191b23">1M</div>
<div class="t" id="r2" style="left:1338.61px;top:460.24px;font-size:19.13px;color:#191b23;transform:scaleX(1.1300);-webkit-text-stroke:0.22px #191b23">6M</div>
<div class="t" id="r3" style="left:1390.47px;top:460.24px;font-size:19.13px;color:#191b23;transform:scaleX(0.9139);-webkit-text-stroke:0.22px #191b23">1Y</div>
<div class="t" id="r4" style="left:1435.30px;top:460.24px;font-size:19.13px;color:#191b23;transform:scaleX(1.0500);-webkit-text-stroke:0.22px #191b23">2Y</div>
<div class="t" id="r5" style="left:1482.26px;top:460.24px;font-size:19.13px;color:#191b23;transform:scaleX(1.0661);-webkit-text-stroke:0.22px #191b23">All time</div>
<div class="t" id="y15" style="left:69.32px;top:535.84px;font-size:16.52px;color:#5d6070;transform:scaleX(0.9482);-webkit-text-stroke:0.08px #5d6070">15K</div>
<div class="t" id="y10" style="left:67.98px;top:600.84px;font-size:16.52px;color:#5d6070;transform:scaleX(0.9752);-webkit-text-stroke:0.08px #5d6070">10K</div>
<div class="t" id="y5" style="left:76.73px;top:665.74px;font-size:16.52px;color:#5d6070;transform:scaleX(1.0105);-webkit-text-stroke:0.08px #5d6070">5K</div>
<div class="t" id="y0" style="left:86.44px;top:730.84px;font-size:16.52px;color:#5d6070;transform:scaleX(1.1043);-webkit-text-stroke:0.08px #5d6070">0</div>
<div class="t" id="x1" style="left:94.82px;top:754.64px;font-size:16.52px;color:#5d6070;transform:scaleX(1.0572);-webkit-text-stroke:0.08px #5d6070">Jul 23</div>
<div class="t" id="x2" style="left:276.95px;top:754.64px;font-size:16.52px;color:#5d6070;transform:scaleX(1.0618);-webkit-text-stroke:0.08px #5d6070">Oct 23</div>
<div class="t" id="x3" style="left:461.83px;top:754.64px;font-size:16.52px;color:#5d6070;transform:scaleX(1.0307);-webkit-text-stroke:0.08px #5d6070">Jan 24</div>
<div class="t" id="x4" style="left:645.49px;top:754.64px;font-size:16.52px;color:#5d6070;transform:scaleX(1.0417);-webkit-text-stroke:0.08px #5d6070">Apr 24</div>
<div class="t" id="x5" style="left:830.47px;top:754.64px;font-size:16.52px;color:#5d6070;transform:scaleX(1.0511);-webkit-text-stroke:0.08px #5d6070">Jul 24</div>
<div class="t" id="x6" style="left:1012.95px;top:754.64px;font-size:16.52px;color:#5d6070;transform:scaleX(1.0524);-webkit-text-stroke:0.08px #5d6070">Oct 24</div>
<div class="t" id="x7" style="left:1198.49px;top:754.64px;font-size:16.52px;color:#5d6070;transform:scaleX(1.0324);-webkit-text-stroke:0.08px #5d6070">Jan 25</div>
<div class="t" id="x8" style="left:1379.84px;top:754.64px;font-size:16.52px;color:#5d6070;transform:scaleX(1.0428);-webkit-text-stroke:0.08px #5d6070">Apr 25</div>
</body>
</html>
